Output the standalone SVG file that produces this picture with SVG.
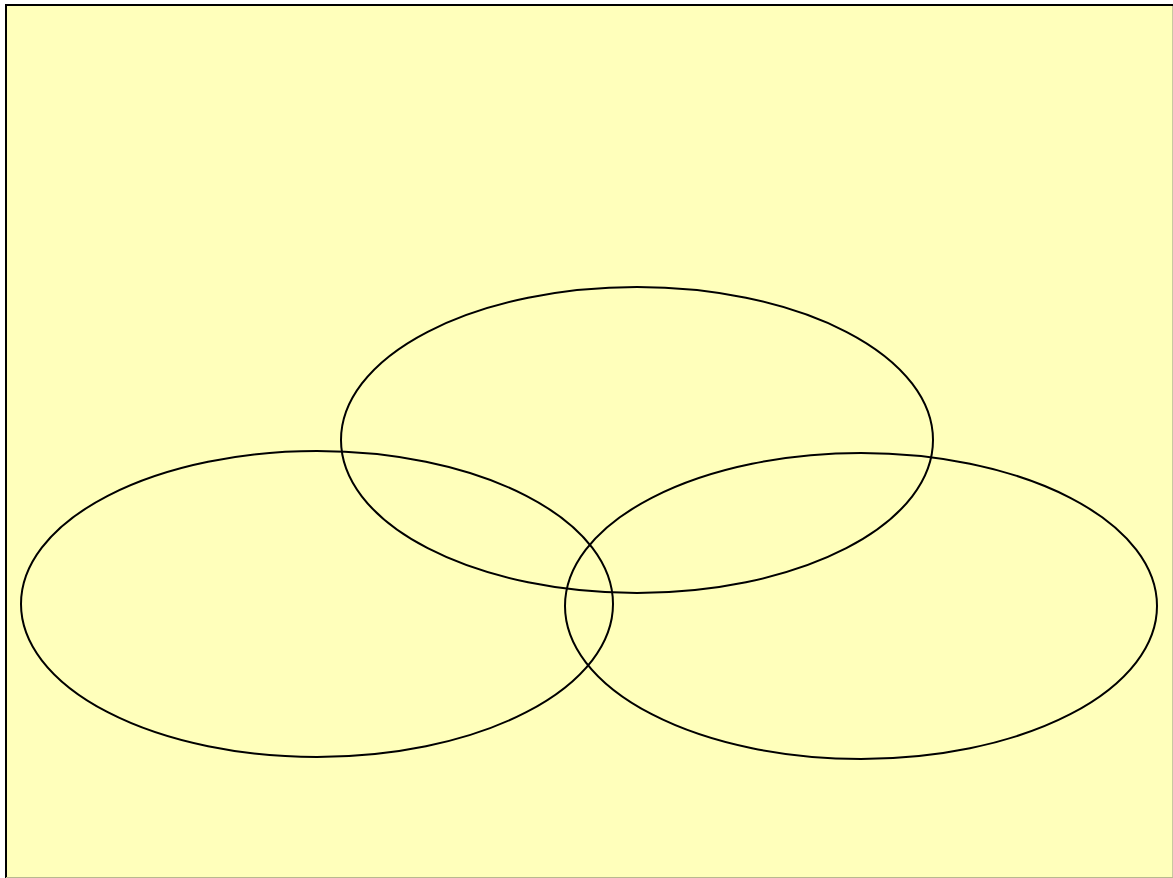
<svg xmlns="http://www.w3.org/2000/svg" width="1173" height="878" viewBox="0 0 1173 878">
<style>
.set{fill:none;stroke:#000;stroke-width:2}
</style>
<rect x="0" y="0" width="1173" height="878" fill="#ffffff"/>
<g id="background">
<rect x="6" y="5" width="1167" height="873" fill="#ffffbb"/>
<line x1="6" y1="5" x2="1173" y2="5" stroke="#000" stroke-width="2"/>
<line x1="6" y1="4" x2="6" y2="878" stroke="#000" stroke-width="2"/>
<line x1="1172.5" y1="6" x2="1172.5" y2="878" stroke="#c8c8a0" stroke-width="1"/>
<line x1="6" y1="877.5" x2="1173" y2="877.5" stroke="#b8b890" stroke-width="1"/>
</g>
<g id="set-top"><ellipse class="set" cx="637" cy="440" rx="296" ry="153"/></g>
<g id="set-left"><ellipse class="set" cx="317" cy="604" rx="296" ry="153"/></g>
<g id="set-right"><ellipse class="set" cx="861" cy="606" rx="296" ry="153"/></g>
<g id="connectors"></g>
</svg>
